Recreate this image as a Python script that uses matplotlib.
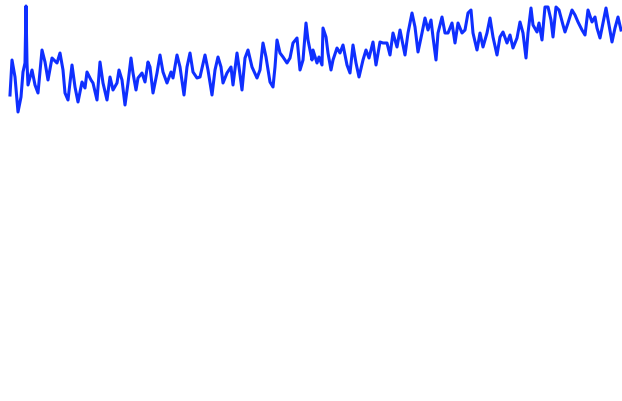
import matplotlib
matplotlib.use("Agg")
import matplotlib.pyplot as plt

# Sample positions (left to right)
x = [10, 12, 15, 18, 21, 23, 25, 26, 27, 28, 32, 35, 38, 42, 45, 48, 52, 57, 60, 63,
     65, 68, 72, 75, 78, 82, 85, 87, 91, 93, 97,
     100, 103, 107, 110, 113, 117, 119, 122, 125, 128, 131, 133, 136, 138, 142, 145,
     148, 150, 153, 157, 160, 163, 167, 171, 173, 177, 180, 184, 187, 190, 193, 197,
     200, 205, 208, 212, 215, 218, 221, 223, 227, 231, 233, 237, 239, 242, 245, 248,
     252, 257, 260, 263, 266, 270, 273, 275, 277, 280, 283, 287, 290, 293, 297,
     300, 303, 306, 308, 312, 313, 317, 319, 322, 323, 326, 328, 331, 333, 337, 340,
     343, 347, 350, 353, 356, 359, 363, 366, 369, 373, 376, 380, 383, 387, 390, 393, 397,
     400, 403, 405, 408, 412, 415, 418, 422, 425, 428, 431, 433, 436, 438, 442, 445,
     448, 452, 455, 458, 462, 465, 468, 471, 473, 477, 480, 483, 487, 490, 493, 497,
     500, 503, 507,
     510, 513, 517, 520, 523, 526, 528, 531, 533, 537, 539, 542, 545, 548, 551, 553,
     556, 559, 563, 565, 568, 572, 575, 578, 582, 585, 588, 592, 595, 597, 600, 603,
     606, 609, 612, 615, 618, 621]

# Series values
values = [306, 341, 324, 289, 304, 329, 338, 395, 338, 316, 331, 316, 308, 351, 339, 321, 343, 338, 348, 331,
          308, 301, 336, 314, 299, 319, 313, 329, 321, 318, 301,
          339, 318, 301, 324, 311, 318, 331, 321, 296, 318, 343, 328, 311, 323, 328, 319,
          339, 334, 308, 328, 346, 329, 318, 329, 323, 346, 334, 306, 334, 348, 329, 323,
          324, 346, 331, 306, 331, 344, 334, 318, 328, 334, 316, 348, 334, 311, 343, 351,
          334, 323, 331, 358, 344, 319, 314, 334, 361, 348, 344, 338, 343, 358, 363,
          331, 341, 378, 361, 341, 351, 338, 344, 336, 373, 364, 348, 331, 341, 353, 348,
          356, 336, 328, 356, 338, 324, 341, 351, 343, 359, 336, 359, 358, 358, 346, 368, 354,
          371, 356, 346, 368, 388, 374, 349, 368, 383, 371, 381, 364, 341, 368, 384, 368,
          368, 378, 358, 378, 368, 371, 388, 391, 368, 351, 368, 354, 368, 383, 364, 346,
          364, 369, 358,
          366, 353, 363, 379, 368, 343, 368, 393, 376, 369, 378, 361, 394, 394, 381, 364,
          394, 391, 376, 369, 378, 391, 386, 379, 371, 366, 391, 379, 384, 373, 363, 378,
          393, 376, 359, 373, 384, 371]

fig = plt.figure(figsize=(6.22, 4.01), dpi=100)
ax = fig.add_axes([0, 0, 1, 1])
ax.plot(x, values, color="#0f2fff", linewidth=2.2)
ax.set_xlim(0, 622)
ax.set_ylim(0, 401)
ax.axis("off")

fig.savefig("out.png", dpi=100)
